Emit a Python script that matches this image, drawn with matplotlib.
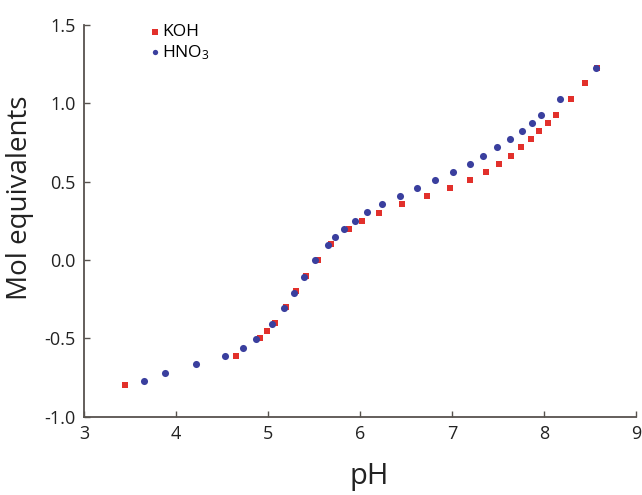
import matplotlib
matplotlib.use("Agg")
from matplotlib import pyplot as plt

plt.rcParams['font.family'] = ['Open Sans', 'DejaVu Sans']
plt.rcParams['mathtext.fontset'] = 'custom'
plt.rcParams['mathtext.rm'] = 'Open Sans'
plt.rcParams['mathtext.it'] = 'Open Sans'

# KOH titration points (pH, mol equivalents)
koh_ph = [3.45, 4.65, 4.91, 4.99, 5.08, 5.20, 5.30, 5.41, 5.54, 5.68, 5.88, 6.02,
          6.21, 6.46, 6.73, 6.98, 7.20, 7.37, 7.51, 7.64, 7.75, 7.86, 7.95, 8.04,
          8.13, 8.29, 8.44, 8.58]
koh_eq = [-0.80, -0.61, -0.50, -0.45, -0.40, -0.30, -0.20, -0.10, 0.0, 0.10, 0.20, 0.25,
          0.30, 0.355, 0.41, 0.46, 0.51, 0.56, 0.615, 0.667, 0.72, 0.77, 0.822, 0.875,
          0.928, 1.03, 1.127, 1.227]

# HNO3 titration points
hno3_ph = [3.65, 3.88, 4.22, 4.53, 4.73, 4.87, 5.04, 5.17, 5.28, 5.39, 5.51, 5.65,
           5.73, 5.83, 5.95, 6.08, 6.24, 6.43, 6.62, 6.82, 7.01, 7.20, 7.34, 7.49,
           7.63, 7.76, 7.87, 7.97, 8.17, 8.56]
hno3_eq = [-0.77, -0.72, -0.665, -0.61, -0.56, -0.505, -0.41, -0.305, -0.21, -0.11, 0.0, 0.095,
           0.147, 0.197, 0.25, 0.305, 0.356, 0.41, 0.458, 0.509, 0.56, 0.615, 0.667, 0.72,
           0.77, 0.822, 0.875, 0.928, 1.03, 1.227]

fig = plt.figure(figsize=(6.42, 4.95), dpi=100)
ax = fig.add_axes([0.1308, 0.158, 0.86, 0.7915])

ax.scatter(koh_ph, koh_eq, marker='s', s=24, color='#e2302b', linewidths=0, label='KOH', zorder=2)
ax.scatter(hno3_ph, hno3_eq, marker='o', s=26, color='#3a3f9e', linewidths=0, label='HNO$_3$', zorder=3)

ax.set_xlim(3, 9)
ax.set_ylim(-1, 1.5)
ax.set_xticks([3, 4, 5, 6, 7, 8, 9])
ax.set_yticks([-1.0, -0.5, 0.0, 0.5, 1.0, 1.5])
ax.set_yticklabels(['-1.0', '-0.5', '0.0', '0.5', '1.0', '1.5'])

for s in ['top', 'right']:
    ax.spines[s].set_visible(False)
for s in ['left', 'bottom']:
    ax.spines[s].set_color('#57524e')
    ax.spines[s].set_linewidth(1.3)
ax.tick_params(direction='in', length=4, width=1, color='#57524e',
               labelsize=13, labelcolor='#222222', pad=6)

ax.set_xlabel('pH', fontsize=21, color='#222222')
ax.xaxis.set_label_coords(0.516, -0.115)
ax.xaxis.label.set_va('top')
ax.set_ylabel('Mol equivalents', fontsize=20, color='#222222')
ax.yaxis.set_label_coords(-0.09, 0.56)

leg = ax.legend(loc='upper left', bbox_to_anchor=(0.1, 1.02), frameon=False,
                handletextpad=-0.1, handlelength=1.0, labelspacing=0.15,
                fontsize=12.5, markerscale=0.75, borderaxespad=0)

fig.savefig('out.png', dpi=100)
